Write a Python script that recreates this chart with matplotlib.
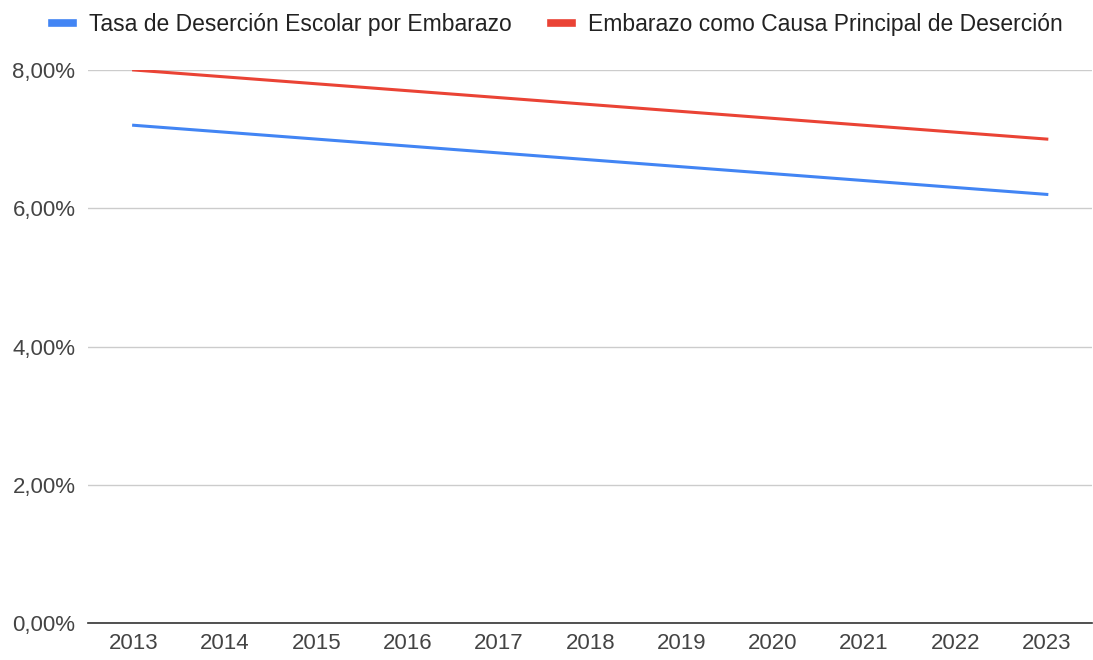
import matplotlib.pyplot as plt
from matplotlib.ticker import FuncFormatter

# data
years = ["2013", "2014", "2015", "2016", "2017", "2018", "2019", "2020", "2021", "2022", "2023"]
tasa_desercion = [7.2, 7.1, 7.0, 6.9, 6.8, 6.7, 6.6, 6.5, 6.4, 6.3, 6.2]
embarazo_causa = [8.0, 7.9, 7.8, 7.7, 7.6, 7.5, 7.4, 7.3, 7.2, 7.1, 7.0]
labels = ["Tasa de Deserción Escolar por Embarazo", "Embarazo como Causa Principal de Deserción"]
y_ticks = [0, 2, 4, 6, 8]

plt.rcParams['font.family'] = ['Liberation Sans', 'DejaVu Sans']

fig = plt.figure(figsize=(10.93, 6.6), dpi=100)
ax = fig.add_axes([0.0805, 0.056, 0.919, 0.838])

x = range(len(years))
ax.plot(x, tasa_desercion, color="#4285f4", lw=2.2, label=labels[0])
ax.plot(x, embarazo_causa, color="#ea4335", lw=2.2, label=labels[1])

ax.set_xlim(-0.5, len(years) - 0.5)
ax.set_ylim(0, 8)
ax.set_xticks(list(x))
ax.set_xticklabels(years)
ax.set_yticks(y_ticks)
ax.yaxis.set_major_formatter(FuncFormatter(lambda v, p: ("%.2f%%" % v).replace(".", ",")))

ax.grid(axis="y", color="#cccccc", lw=1)
ax.set_axisbelow(True)
for s in ["top", "right", "left"]:
    ax.spines[s].set_visible(False)
ax.spines["bottom"].set_color("#333333")
ax.spines["bottom"].set_linewidth(1.2)
ax.tick_params(axis="both", length=0, labelsize=16, labelcolor="#444444")
ax.tick_params(axis="x", pad=7)
ax.tick_params(axis="y", pad=9)

fig.legend(loc="upper center", bbox_to_anchor=(0.51, 1.011), ncol=2, frameon=False,
           fontsize=16.5, handlelength=0.9, handletextpad=0.7, columnspacing=1.75,
           labelcolor="#222222")
for h in fig.legends[0].get_lines():
    h.set_linewidth(5.5)

fig.savefig("out.png", dpi=100)
